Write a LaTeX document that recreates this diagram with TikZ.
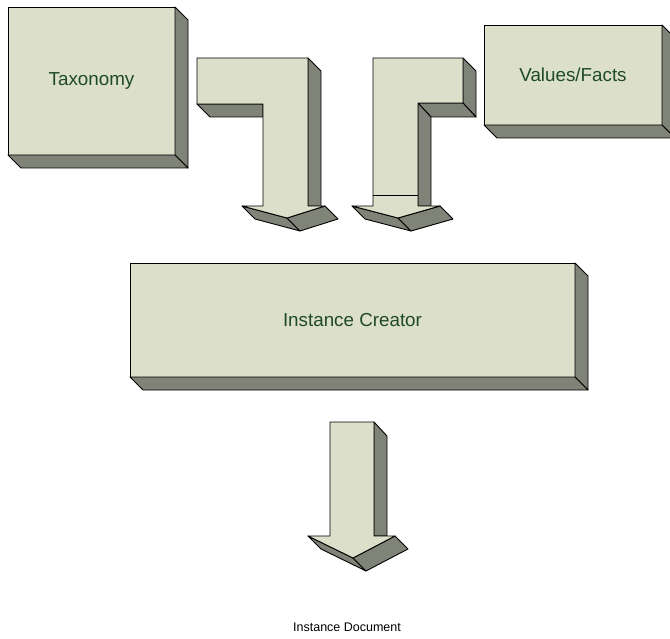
\documentclass[tikz,border=0pt]{standalone}
\usepackage{fontspec}
\setmainfont{Liberation Sans}
\definecolor{facecol}{HTML}{DCDFCA}
\definecolor{sidecol}{HTML}{808377}
\definecolor{textcol}{HTML}{1F4A2A}
\tikzset{
	front/.style={draw=black, fill=facecol, line width=0.9pt, line join=round},
	side/.style={draw=black, fill=sidecol, line width=0.9pt, line join=round},
	block/.style={front, rectangle, inner sep=0pt, outer sep=0pt, text=textcol,
		font=\fontsize{18.8}{22}\selectfont},
}
\begin{document}
\begin{tikzpicture}[x=1pt, y=-1pt]
	\useasboundingbox (0,0) rectangle (670,639);
	\clip (0,0) rectangle (670,639);
	% blocks
	\node[block, minimum width=167pt, minimum height=148pt] (tax) at (91.5,81) {Taxonomy};
	\draw[side] (tax.north east) -- ++(13,13) -- ++(0,148) -- (tax.south east) -- cycle;
	\draw[side] (tax.south west) -- ++(13,13) -- ++(167,0) -- (tax.south east) -- cycle;
	\node[block, minimum width=178pt, minimum height=100pt] (facts) at (573,75) {Values/Facts};
	\draw[side] (facts.north east) -- ++(13,13) -- ++(0,100) -- (facts.south east) -- cycle;
	\draw[side] (facts.south west) -- ++(13,13) -- ++(178,0) -- (facts.south east) -- cycle;
	\node[block, minimum width=445pt, minimum height=114pt] (creator) at (352.5,320) {Instance Creator};
	\draw[side] (creator.north east) -- ++(13,13) -- ++(0,114) -- (creator.south east) -- cycle;
	\draw[side] (creator.south west) -- ++(13,13) -- ++(445,0) -- (creator.south east) -- cycle;
	% left arrow
	\draw[side] (308,58) -- (321,71) -- (321,206) -- (308,206) -- cycle;
	\draw[side] (197,104) -- (263,104) -- (263,117) -- (210,117) -- cycle;
	\draw[side] (242,206) -- (287,218) -- (300,231) -- (255,219) -- cycle;
	\draw[side] (287,218) -- (325,206) -- (338,219) -- (300,231) -- cycle;
	\draw[front] (197,58) -- (308,58) -- (308,206) -- (325,206) -- (287,218)
		-- (242,206) -- (263,206) -- (263,104) -- (197,104) -- cycle;
	% right arrow
	\draw[side] (463,58) -- (476,71) -- (476,117) -- (463,103) -- cycle;
	\draw[side] (418,103) -- (463,103) -- (476,117) -- (431,117) -- cycle;
	\draw[side] (418,103) -- (431,117) -- (431,206) -- (418,206) -- cycle;
	\draw[side] (352,206) -- (398,218) -- (411,231) -- (365,219) -- cycle;
	\draw[side] (398,218) -- (440,206) -- (453,219) -- (411,231) -- cycle;
	\draw[front] (373,58) -- (463,58) -- (463,103) -- (418,103) -- (418,206) -- (440,206)
		-- (398,218) -- (352,206) -- (373,206) -- cycle;
	\draw[line width=0.9pt] (373,195) -- (418,195);
	% lower arrow
	\draw[side] (374,422) -- (387,436) -- (387,536) -- (374,536) -- cycle;
	\draw[side] (308,536) -- (353,558) -- (366,571) -- (321,549) -- cycle;
	\draw[side] (353,558) -- (395,536) -- (408,549) -- (366,571) -- cycle;
	\draw[front] (330,422) -- (374,422) -- (374,536) -- (395,536) -- (353,558)
		-- (308,536) -- (330,536) -- cycle;
	\node[font=\fontsize{12.5}{15}\selectfont] (doc) at (347,627) {Instance Document};
\end{tikzpicture}
\end{document}
